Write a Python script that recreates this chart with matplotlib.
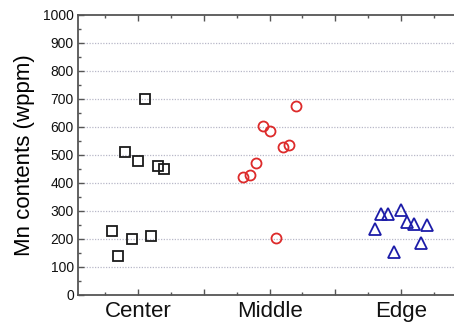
import matplotlib.pyplot as plt
import numpy as np
from matplotlib.ticker import MultipleLocator, FuncFormatter

plt.rcParams['font.family'] = ['Liberation Sans', 'DejaVu Sans']

# 측정 위치와 Mn 함량 (wppm)
groups = ['Center', 'Middle', 'Edge']
center = [230, 140, 510, 200, 480, 700, 210, 460, 450]
middle = [420, 430, 470, 605, 585, 205, 530, 535, 675]
edge = [235, 288, 288, 155, 305, 260, 255, 185, 250]

# 같은 그룹 안에서 점을 옆으로 벌려 놓는 간격
spread = np.linspace(-0.2, 0.2, 9)

fig = plt.figure(figsize=(4.54, 3.27), dpi=100)
ax = fig.add_axes([78/454, 32/327, (460-78)/454, 280/327])

ax.plot(1 + spread, center, 's', ms=6.8, mfc='none', mec='#1a1a1a', mew=1.3, ls='none')
ax.plot(2 + spread, middle, 'o', ms=7.2, mfc='none', mec='#dd2a2a', mew=1.3, ls='none')
ax.plot(3 + spread, edge, '^', ms=8.5, mfc='none', mec='#1c1ca8', mew=1.3, ls='none')

ax.set_xlim(0.542, 3.45)
ax.set_ylim(0, 1000)

ax.yaxis.set_major_locator(MultipleLocator(100))
ax.yaxis.set_minor_locator(MultipleLocator(50))
ax.xaxis.set_major_locator(MultipleLocator(0.5))
ax.xaxis.set_minor_locator(MultipleLocator(0.25))

# 정수 위치에만 그룹 이름
def name_at(x, pos):
    i = int(round(x))
    if abs(x - i) < 1e-6 and 1 <= i <= len(groups):
        return groups[i - 1]
    return ''
ax.xaxis.set_major_formatter(FuncFormatter(name_at))

for y in range(100, 1000, 100):
    ax.axhline(y, color='#b8b8c8', lw=0.9, ls=(0, (1, 1.2)), zorder=0)

ax.tick_params(which='both', direction='in', top=True, right=True, colors='#555555',
               labelcolor='#111111', labelsize=10)
ax.tick_params(which='major', length=4, width=1)
ax.tick_params(which='minor', length=2.5, width=1)
ax.tick_params(axis='x', labelsize=16, pad=4)
ax.tick_params(axis='y', pad=3)

for s in ax.spines.values():
    s.set_color('#555555')
    s.set_linewidth(1.3)

ax.set_ylabel('Mn contents (wppm)', fontsize=16, labelpad=6)

fig.savefig('out.png', dpi=100)
